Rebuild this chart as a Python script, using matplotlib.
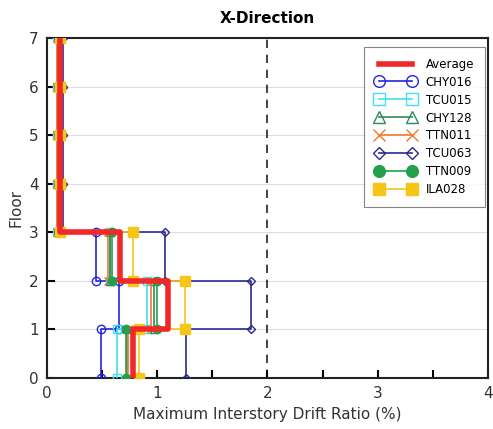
import matplotlib

matplotlib.use("Agg")
import matplotlib.pyplot as plt
from matplotlib.ticker import MultipleLocator

# story drift ratios (%) for stories 1..7
floors = [0, 1, 2, 3, 4, 5, 6, 7]
records = ["CHY016", "TCU015", "CHY128", "TTN011", "TCU063", "TTN009", "ILA028"]
drifts = {
    "CHY016": [0.49, 0.65, 0.45, 0.10, 0.10, 0.10, 0.10],
    "TCU015": [0.64, 0.91, 0.57, 0.09, 0.09, 0.09, 0.09],
    "CHY128": [0.73, 0.97, 0.57, 0.10, 0.10, 0.10, 0.10],
    "TTN011": [0.74, 0.94, 0.55, 0.09, 0.09, 0.09, 0.09],
    "TCU063": [1.26, 1.85, 1.07, 0.15, 0.15, 0.15, 0.15],
    "TTN009": [0.72, 1.00, 0.59, 0.11, 0.11, 0.11, 0.11],
    "ILA028": [0.84, 1.25, 0.78, 0.12, 0.12, 0.12, 0.12],
}
average = [0.78, 1.10, 0.66, 0.12, 0.12, 0.12, 0.12]

styles = {
    "CHY016": dict(color="#2424e0", marker="o", mfc="none", ms=6),
    "TCU015": dict(color="#40e0f0", marker="s", mfc="none", ms=6),
    "CHY128": dict(color="#2e8b57", marker="^", mfc="none", ms=6),
    "TTN011": dict(color="#f07830", marker="x", mfc="none", ms=6),
    "TCU063": dict(color="#2b2b8f", marker="D", mfc="none", ms=4.5),
    "TTN009": dict(color="#22a04a", marker="o", mfc="#22a04a", ms=6),
    "ILA028": dict(color="#f5c518", marker="s", mfc="#f5c518", ms=6.5),
}


def stair(d):
    xs, ys = [], []
    for i, v in enumerate(d):
        xs += [v, v]
        ys += [floors[i], floors[i + 1]]
    return xs, ys


fig = plt.figure(figsize=(4.93, 4.29), dpi=100)
ax = fig.add_axes([0.095, 0.119, 0.895, 0.792])

for y in floors[1:-1]:
    ax.axhline(y, color="#dddddd", linewidth=0.8, zorder=0)
ax.axvline(2, color="#222222", linestyle=(0, (5, 4)), linewidth=1.2, zorder=1)

xs, ys = stair(average)
ax.plot(xs, ys, color="#f02828", linewidth=4, label="Average", zorder=5)
for name in records:
    xs, ys = stair(drifts[name])
    ax.plot(xs, ys, linewidth=1.2, label=name, zorder=3, **styles[name])

ax.set_xlim(0, 4)
ax.set_ylim(0, 7)
ax.xaxis.set_major_locator(MultipleLocator(1))
ax.xaxis.set_minor_locator(MultipleLocator(0.5))
ax.yaxis.set_major_locator(MultipleLocator(1))
ax.tick_params(which="both", direction="in", top=False, right=False, labelsize=11,
               labelcolor="#333333", length=6, width=1.5, pad=6)
for s in ax.spines.values():
    s.set_linewidth(1.5)
    s.set_color("#222222")

ax.set_title("X-Direction", fontsize=11, fontweight="bold", pad=11)
ax.set_xlabel("Maximum Interstory Drift Ratio (%)", fontsize=11, color="#333333")
ax.set_ylabel("Floor", fontsize=11, color="#333333")
leg = ax.legend(loc="upper right", bbox_to_anchor=(0.993, 0.974), fontsize=8.5,
                frameon=True, fancybox=False, edgecolor="#666666", numpoints=2,
                markerscale=1.4, handlelength=3.4, labelspacing=0.42,
                borderpad=0.9, handletextpad=0.9, borderaxespad=0)
leg.get_frame().set_linewidth(0.8)

fig.savefig("out.png", dpi=100)
